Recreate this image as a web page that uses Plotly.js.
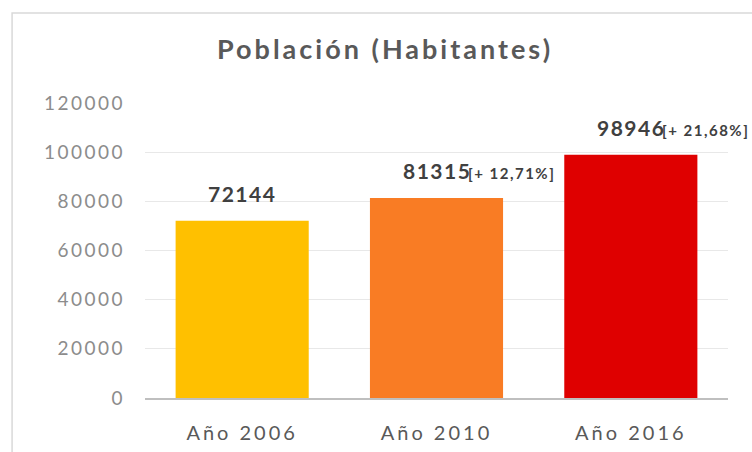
<!DOCTYPE html>
<html>
<head>
<meta charset="utf-8">
<script src="https://cdn.plot.ly/plotly-3.0.1.min.js"></script>
<style>
html,body{margin:0;padding:0;background:#fff;}
#chart{width:752px;height:452px;}
.gtitle{letter-spacing:3px;}
.xtick text{letter-spacing:3px;}
.ytick text{letter-spacing:2.5px;}
.annotation-text{letter-spacing:1.5px;}
</style>
</head>
<body>
<div id="chart"></div>
<script>
var categories = ["Año 2006", "Año 2010", "Año 2016"];
var values = [72144, 81315, 98946];
var changes = ["", "[+ 12,71%]", "[+ 21,68%]"];
var barColors = ["#FFC000", "#F97C24", "#DF0000"];
var yTicks = [0, 20000, 40000, 60000, 80000, 100000, 120000];

var annotations = [];
for (var i = 0; i < categories.length; i++) {
  annotations.push({
    x: categories[i], y: values[i], xref: "x", yref: "y",
    text: String(values[i]), showarrow: false,
    xanchor: "center", yanchor: "bottom", yshift: 13,
    font: {family: "Lato", size: 21, color: "#404040", weight: "bold"}
  });
  if (changes[i]) {
    annotations.push({
      x: categories[i], y: values[i], xref: "x", yref: "y",
      text: changes[i], showarrow: false,
      xanchor: "left", yanchor: "bottom", yshift: 14, xshift: 29,
      font: {family: "Lato", size: 15, color: "#404040", weight: "bold"}
    });
  }
}

var trace = {
  type: "bar",
  x: categories,
  y: values,
  marker: {color: barColors},
  hoverinfo: "x+y"
};

var layout = {
  width: 752, height: 452,
  margin: {l: 145, r: 24, t: 103, b: 54},
  paper_bgcolor: "#ffffff",
  plot_bgcolor: "#ffffff",
  showlegend: false,
  bargap: 0.315,
  title: {
    text: "Población (Habitantes)",
    x: 0.512, xanchor: "center",
    y: 0.89, yanchor: "middle",
    font: {family: "Lato", size: 27, color: "#595959", weight: "bold"}
  },
  xaxis: {
    range: [-0.5, 2.5], autorange: false,
    showgrid: false,
    showline: true, linecolor: "#BFBFBF", linewidth: 2,
    ticks: "", ticklabelstandoff: 16,
    tickfont: {family: "Lato", size: 20, color: "#595959"},
    fixedrange: true
  },
  yaxis: {
    range: [0, 120000], autorange: false,
    tickvals: yTicks,
    ticktext: yTicks.map(String),
    showgrid: true, gridcolor: "#E8E8E8", gridwidth: 1,
    zeroline: false, showline: false,
    ticks: "", ticklabelstandoff: 19,
    tickfont: {family: "Lato", size: 19, color: "#8C8C8C"},
    fixedrange: true
  },
  shapes: [{
    type: "rect", xref: "paper", yref: "paper",
    x0: -0.228, x1: 1.06, y0: -0.25, y1: 1.305,
    line: {color: "#D9D9D9", width: 1.5},
    fillcolor: "rgba(0,0,0,0)",
    layer: "below"
  }],
  annotations: annotations
};

Plotly.newPlot("chart", [trace], layout, {displayModeBar: false, staticPlot: true});
</script>
</body>
</html>
